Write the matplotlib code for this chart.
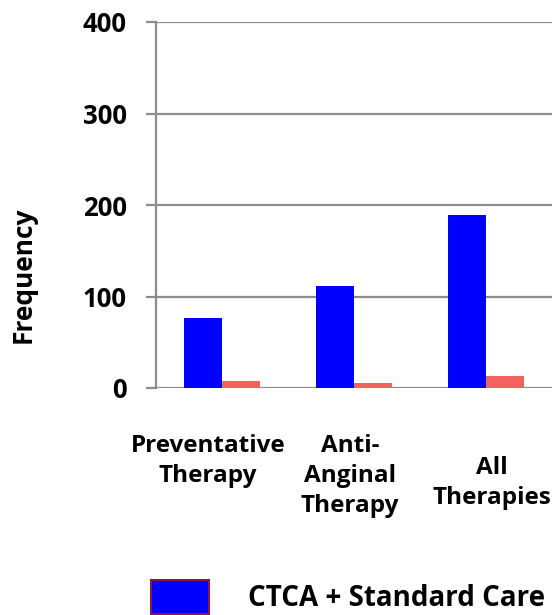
import matplotlib

matplotlib.use("Agg")
import matplotlib.pyplot as plt
import numpy as np
from matplotlib.patches import Patch

plt.rcParams["font.family"] = ["Open Sans", "DejaVu Sans"]
plt.rcParams["font.weight"] = "bold"

categories = ["Preventative\nTherapy", "Anti-\nAnginal\nTherapy", "All\nTherapies"]
ctca_values = [77, 112, 189]
standard_values = [8, 6, 13]
series_names = ["CTCA + Standard Care", "Standard Care"]
y_ticks = [0, 100, 200, 300, 400]

BLUE = "#0000FF"
RED = "#F26360"
GRID = "#8C8C8C"

fig = plt.figure(figsize=(5.6, 6.15), dpi=100)
ax = fig.add_axes([156 / 560, 1 - 388 / 615, 396 / 560, 366 / 615])

x = np.arange(len(categories))
width = 0.29
ax.bar(x - width / 2, ctca_values, width, color=BLUE, label=series_names[0], zorder=3)
ax.bar(x + width / 2, standard_values, width, color=RED, label=series_names[1], zorder=3)

ax.set_xlim(-0.5, len(categories) - 0.5)
ax.set_ylim(0, 400)
ax.set_yticks(y_ticks)
ax.set_yticklabels([str(t) for t in y_ticks], fontsize=18.5, fontweight="bold")
ax.yaxis.grid(True, color=GRID, linewidth=1.6, zorder=0)
ax.set_axisbelow(True)

for side in ("top", "right", "bottom"):
    ax.spines[side].set_visible(False)
ax.spines["left"].set_color(GRID)
ax.spines["left"].set_linewidth(1.6)
ax.tick_params(axis="y", length=7, width=1.6, color=GRID, pad=14)
ax.tick_params(axis="x", length=0, labelbottom=False)

# category labels placed by hand so each block can sit at its own height
label_offsets = [(-0.106, -0.125), (-0.03, -0.125), (0.045, -0.185)]
for xi, label, (dx, y0) in zip(x, categories, label_offsets):
    ax.text(xi + dx, y0, label, transform=ax.get_xaxis_transform(),
            ha="center", va="top", fontsize=17.5, fontweight="bold",
            linespacing=1.33)

fig.text(23 / 560, 1 - 275 / 615, "Frequency", rotation=90,
         ha="center", va="center", fontsize=19, fontweight="bold")

handle = Patch(facecolor=BLUE, edgecolor="#8B1A3A", linewidth=1.5)
fig.legend([handle], [series_names[0]], loc="lower left",
           bbox_to_anchor=(151 / 560, 1 / 615), frameon=False,
           borderaxespad=0, borderpad=0,
           handlelength=2.09, handleheight=1.5, handletextpad=1.4,
           prop={"size": 20, "weight": "bold"})

fig.savefig("out.png", dpi=100)
